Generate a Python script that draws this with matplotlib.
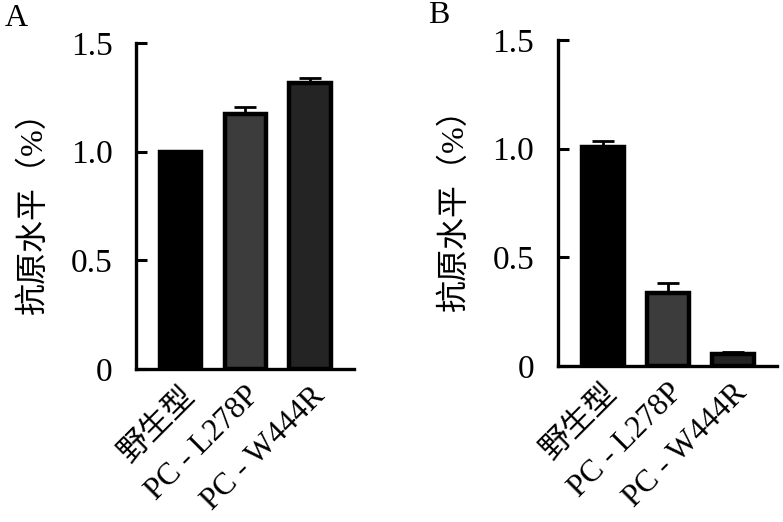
import matplotlib
matplotlib.use("Agg")
import matplotlib.pyplot as plt

plt.rcParams['font.family'] = ['Liberation Serif', 'Noto Sans CJK SC']

categories = ["野生型", "PC - L278P", "PC - W444R"]
values_a = [1.0, 1.175, 1.316]
errors_a = [0.005, 0.029, 0.023]
values_b = [1.006, 0.335, 0.054]
errors_b = [0.028, 0.047, 0.012]
bar_colors = ["#000000", "#3c3c3c", "#242424"]
y_label = "抗原水平（%）"
y_ticks = [0, 0.5, 1.0, 1.5]
y_tick_labels = ["0", "0.5", "1.0", "1.5"]


def draw_panel(ax, values, errors, letter):
    x = range(len(categories))
    ax.bar(x, values, width=0.64, color=bar_colors, edgecolor="black",
           linewidth=3.2, zorder=2)
    ax.errorbar(x, values, yerr=[[0] * len(errors), errors], fmt="none",
                ecolor="black", elinewidth=2, capsize=8, capthick=2, zorder=1)
    ax.set_xlim(-0.69, 2.68)
    ax.set_ylim(0, 1.5)
    ax.set_yticks(y_ticks)
    ax.set_yticklabels(y_tick_labels)
    ax.set_xticks(list(x))
    ax.set_xticklabels(categories, rotation=45, ha="right",
                       rotation_mode="anchor", fontsize=22.5)
    ax.tick_params(axis="y", direction="in", length=8, width=2.2,
                   labelsize=24, pad=17)
    ax.tick_params(axis="x", length=0, pad=9)
    for side in ["top", "right"]:
        ax.spines[side].set_visible(False)
    for side in ["left", "bottom"]:
        ax.spines[side].set_linewidth(2.4)
    ax.set_ylabel(y_label, fontsize=23)
    ax.yaxis.set_label_coords(-0.40, 0.5)
    ax.text(-0.495, 1.03, letter, transform=ax.transAxes, fontsize=23,
            ha="right", va="bottom")


fig = plt.figure(figsize=(7.83, 5.22), dpi=100)
ax_a = fig.add_axes([0.1737, 0.2931, 0.2784, 0.6245])
ax_b = fig.add_axes([0.7126, 0.2989, 0.2797, 0.6245])
draw_panel(ax_a, values_a, errors_a, "A")
draw_panel(ax_b, values_b, errors_b, "B")

fig.savefig("out.png", dpi=100)
